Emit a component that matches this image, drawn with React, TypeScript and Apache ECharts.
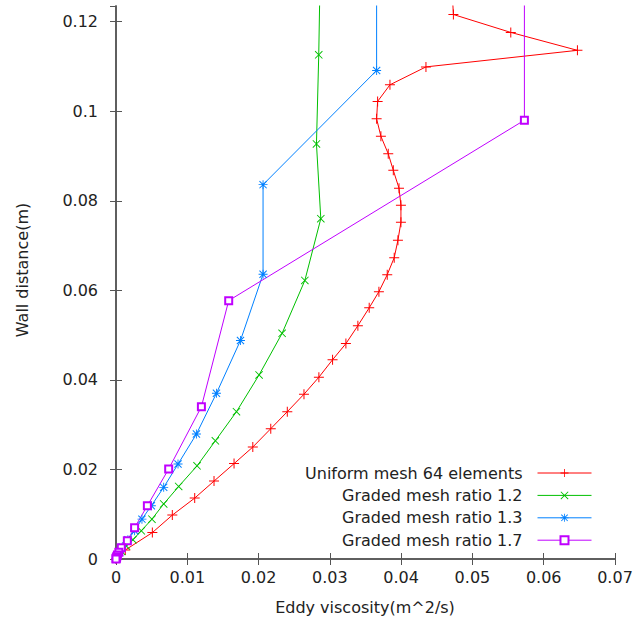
import React, { useEffect, useRef } from "react";
import * as echarts from "echarts";

// ---- data (x = eddy viscosity m^2/s, y = wall distance m) ----
const uniformX = [0.0472, 0.04733, 0.05538, 0.06473, 0.04348, 0.03843, 0.0367, 0.03656, 0.03716, 0.03819, 0.0389, 0.0397, 0.03997, 0.03997, 0.03955, 0.03903, 0.03805, 0.03688, 0.03552, 0.03393, 0.03225, 0.03038, 0.02846, 0.02637, 0.02403, 0.02171, 0.01919, 0.01656, 0.01375, 0.01104, 0.0079, 0.0051, 0.0013, 0];
const uniformY = [0.1255, 0.1216, 0.1176, 0.1136, 0.1099, 0.1059, 0.1022, 0.0983, 0.0944, 0.0905, 0.0868, 0.0828, 0.079, 0.0752, 0.0712, 0.0673, 0.0635, 0.0597, 0.0561, 0.0521, 0.0481, 0.0445, 0.0406, 0.0368, 0.0329, 0.0291, 0.025, 0.0213, 0.0174, 0.0136, 0.0098, 0.0059, 0.002, 0];

const graded12X = [0.0287, 0.02844, 0.02812, 0.02873, 0.02649, 0.0233, 0.02007, 0.0169, 0.01394, 0.01137, 0.00879, 0.00669, 0.00504, 0.00355, 0.00237, 0.00145, 0.0008, 0.00035, 0];
const graded12Y = [0.1366, 0.1126, 0.0927, 0.076, 0.0622, 0.0504, 0.0411, 0.0329, 0.0264, 0.0208, 0.0162, 0.0123, 0.0089, 0.0063, 0.0043, 0.0029, 0.0017, 0.0008, 0];

const graded13X = [0.03656, 0.03656, 0.02063, 0.02063, 0.01746, 0.01409, 0.01128, 0.0087, 0.00669, 0.00496, 0.00364, 0.00261, 0.00167, 0.00088, 0.0005, 0.0002, 0];
const graded13Y = [0.142, 0.1091, 0.0836, 0.0636, 0.0488, 0.037, 0.0279, 0.0212, 0.016, 0.0119, 0.0089, 0.0063, 0.0043, 0.0027, 0.0015, 0.0007, 0];

const graded17X = [0.05729, 0.05729, 0.01581, 0.01198, 0.00739, 0.0044, 0.00261, 0.00159, 0.00074, 0.0004, 0.0002, 0.0001, 0.00005, 0.00002, 0];
const graded17Y = [0.166, 0.098, 0.0577, 0.034, 0.0201, 0.0119, 0.007, 0.0041, 0.0025, 0.0015, 0.0009, 0.0005, 0.0003, 0.0001, 0];

const seriesNames = [
  "Uniform mesh 64 elements",
  "Graded mesh ratio 1.2",
  "Graded mesh ratio 1.3",
  "Graded mesh ratio 1.7",
];
const seriesColors = ["#ff0000", "#00c000", "#0080ff", "#c000ff"];

const xTitle = "Eddy viscosity(m^2/s)";
const yTitle = "Wall distance(m)";

const FONT = "DejaVu Sans";
const TEXT = "#222";
const FRAME = "#555";

const PLUS = "path://M4.5 0 H5.5 V4.5 H10 V5.5 H5.5 V10 H4.5 V5.5 H0 V4.5 H4.5 Z";
const CROSS = "path://M0 0.8 L0.8 0 L10 9.2 L9.2 10 Z M9.2 0 L10 0.8 L0.8 10 L0 9.2 Z";
const STAR = "path://M4.5 0 H5.5 V4.5 H10 V5.5 H5.5 V10 H4.5 V5.5 H0 V4.5 H4.5 Z M0.6 1.4 L1.4 0.6 L9.4 8.6 L8.6 9.4 Z M8.6 0.6 L9.4 1.4 L1.4 9.4 L0.6 8.6 Z";

const zip = (xs: number[], ys: number[]) => xs.map((x, i) => [x, ys[i]]);

export default function App() {
  const ref = useRef<HTMLDivElement>(null);
  useEffect(() => {
    if (!ref.current) return;
    const chart = echarts.init(ref.current, undefined, { renderer: "svg" });
    const datasets = [
      zip(uniformX, uniformY),
      zip(graded12X, graded12Y),
      zip(graded13X, graded13Y),
      zip(graded17X, graded17Y),
    ];
    const symbols = [PLUS, CROSS, STAR, "emptyRect"];
    const sizes = [10, 8, 9, 7];
    const axisCommon = {
      axisLine: { show: true, lineStyle: { color: FRAME, width: 1.5 } },
      axisTick: { show: true, inside: true, length: 6, lineStyle: { color: FRAME, width: 1 } },
      splitLine: { show: false },
    };
    const labelStyle = { fontFamily: FONT, fontSize: 16, color: TEXT };
    chart.setOption({
      animation: false,
      backgroundColor: "#ffffff",
      grid: { left: 116, right: 18, top: 6, bottom: 68, containLabel: false, outerBoundsMode: "none" },
      xAxis: [
        {
          type: "value", min: 0, max: 0.07, interval: 0.01, position: "bottom",
          ...axisCommon,
          axisLabel: { ...labelStyle, margin: 10 },
        },
        {
          type: "value", min: 0, max: 0.07, interval: 0.01, position: "top",
          ...axisCommon,
          axisLabel: { show: false },
        },
      ],
      yAxis: [
        {
          type: "value", min: 0, max: 0.1235, interval: 0.02, position: "left",
          ...axisCommon,
          axisLabel: { ...labelStyle, margin: 18, showMaxLabel: false },
        },
        {
          type: "value", min: 0, max: 0.1235, interval: 0.02, position: "right",
          ...axisCommon,
          axisLabel: { show: false },
        },
      ],
      legend: {
        orient: "vertical",
        align: "right",
        right: 41,
        top: 465,
        padding: 0,
        itemWidth: 54,
        itemHeight: 10,
        itemGap: 6.4,
        selectedMode: false,
        lineStyle: { width: 1 },
        textStyle: { fontFamily: FONT, fontSize: 16, color: TEXT, padding: [0, 10, 0, 0] },
        data: seriesNames,
      },
      graphic: [
        {
          type: "text", x: 365, y: 607,
          style: { text: xTitle, fontFamily: FONT, fontSize: 16, fill: TEXT, align: "center", verticalAlign: "middle" },
        },
        {
          type: "text", x: 22, y: 270, rotation: Math.PI / 2,
          style: { text: yTitle, fontFamily: FONT, fontSize: 16, fill: TEXT, align: "center", verticalAlign: "middle" },
        },
      ],
      series: datasets.map((d, i) => ({
        name: seriesNames[i],
        type: "line",
        data: d,
        symbol: symbols[i],
        symbolSize: sizes[i],
        showSymbol: true,
        showAllSymbol: true,
        clip: true,
        lineStyle: { color: seriesColors[i], width: 1 },
        itemStyle: { color: seriesColors[i], borderWidth: i === 3 ? 1 : 0 },
        emphasis: { disabled: true },
      })),
    });
    return () => chart.dispose();
  }, []);
  return <div ref={ref} style={{ width: 633, height: 627, position: "absolute", left: 0, top: 0 }} />;
}
